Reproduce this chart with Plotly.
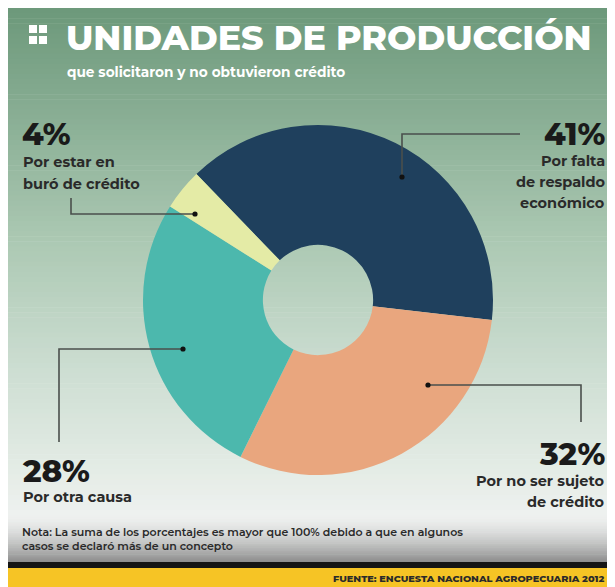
import plotly.graph_objects as go

W, H = 615, 587
OFF = 8  # page body margin

# ---- data ----
labels = ["Por falta de respaldo económico", "Por no ser sujeto de crédito",
          "Por otra causa", "Por estar en buró de crédito"]
values = [41, 32, 28, 4]
colors = ["#1f405d", "#e9a67e", "#4cb8ad", "#e4eba6"]

title = "UNIDADES DE PRODUCCIÓN"
subtitle = "que solicitaron y no obtuvieron crédito"
note = ("Nota: La suma de los porcentajes es mayor que 100% debido a que en algunos<br>"
        "casos se declaró más de un concepto")
source = "FUENTE: ENCUESTA NACIONAL AGROPECUARIA 2012"


def px(x):
    return (x - OFF) / W


def py(y):
    return 1 - (y - OFF) / H


def lerp(c1, c2, t):
    return tuple(round(a + (b - a) * t) for a, b in zip(c1, c2))


shapes = []
# green gradient background
stops = [(8, (108, 152, 122)), (120, (138, 175, 149)), (250, (174, 202, 181)),
         (380, (207, 223, 212)), (470, (228, 236, 230)), (515, (238, 241, 239))]
N = 100
y0, y1 = 8, 515
for i in range(N):
    ya = y0 + (y1 - y0) * i / N
    yb = y0 + (y1 - y0) * (i + 1) / N + 0.6
    ym = (ya + yb) / 2
    for j in range(len(stops) - 1):
        if stops[j][0] <= ym <= stops[j + 1][0]:
            t = (ym - stops[j][0]) / (stops[j + 1][0] - stops[j][0])
            c = lerp(stops[j][1], stops[j + 1][1], t)
            break
    shapes.append(dict(type="rect", xref="paper", yref="paper", x0=0, x1=1,
                       y0=py(yb), y1=py(ya), fillcolor="rgb(%d,%d,%d)" % c,
                       line=dict(width=0), layer="below"))
# gray gradient bottom
g0, g1 = (238, 240, 239), (140, 140, 140)
N2 = 30
for i in range(N2):
    ya = 515 + (562 - 515) * i / N2
    yb = 515 + (562 - 515) * (i + 1) / N2 + 0.6
    t = ((i + 0.5) / N2) ** 1.6
    c = lerp(g0, g1, t)
    shapes.append(dict(type="rect", xref="paper", yref="paper", x0=0, x1=1,
                       y0=py(yb), y1=py(ya), fillcolor="rgb(%d,%d,%d)" % c,
                       line=dict(width=0), layer="below"))
# black band and yellow footer
shapes.append(dict(type="rect", xref="paper", yref="paper", x0=0, x1=1,
                   y0=py(568), y1=py(562), fillcolor="#151515", line=dict(width=0), layer="below"))
shapes.append(dict(type="rect", xref="paper", yref="paper", x0=0, x1=1,
                   y0=0, y1=py(568), fillcolor="#f6c425", line=dict(width=0), layer="below"))
# title icon (four squares)
for sx in (29, 39):
    for sy in (25, 36):
        shapes.append(dict(type="rect", xref="paper", yref="paper", x0=px(sx), x1=px(sx + 8),
                           y0=py(sy + 8), y1=py(sy), fillcolor="white", line=dict(width=0)))

# leader lines
leaders = [
    [(402, 177), (402, 134), (520, 134)],
    [(195, 214), (71, 214), (71, 198)],
    [(183, 349), (59, 349), (59, 442)],
    [(428, 385), (581, 385), (581, 422)],
]
for pts in leaders:
    path = "M " + " L ".join("%f,%f" % (px(x), py(y)) for x, y in pts)
    shapes.append(dict(type="path", xref="paper", yref="paper", path=path,
                       line=dict(color="#4a4f4c", width=1.6)))
    x, y = pts[0]
    r = 2.6
    shapes.append(dict(type="circle", xref="paper", yref="paper", x0=px(x - r), x1=px(x + r),
                       y0=py(y + r), y1=py(y - r), fillcolor="#111", line=dict(width=0)))

fig = go.Figure(go.Pie(
    labels=labels, values=values, sort=False, direction="clockwise", rotation=-44,
    hole=0.315, marker=dict(colors=colors, line=dict(width=0)),
    textinfo="none", hoverinfo="label+value", showlegend=False,
    domain=dict(x=[px(318 - 175), px(318 + 175)], y=[py(475), py(125)]),
))

FONT = "Montserrat, Lato, 'Open Sans', sans-serif"
ann = []


def txt(x, y, text, size, color="#2a2a2a", anchor="left", weight=700, family=FONT):
    ann.append(dict(x=px(x), y=py(y), xref="paper", yref="paper", text=text, showarrow=False,
                    xanchor=anchor, yanchor="middle", align=anchor,
                    font=dict(size=size, color=color, family=family, weight=weight)))


txt(64, 37, title, 34.8, color="white", weight=800)
txt(65, 72, subtitle, 13.7, color="white", weight=700)

big = dict(color="#1a1a1a", weight=800)
txt(20, 134, "4%", 31, **big)
txt(21, 162, "Por estar en", 14.5)
txt(21, 184, "buró de crédito", 14.5)

txt(607, 134, "41%", 31, anchor="right", **big)
txt(607, 161, "Por falta", 14.5, anchor="right")
txt(607, 182, "de respaldo", 14.5, anchor="right")
txt(607, 203, "económico", 14.5, anchor="right")

txt(20, 471, "28%", 31, **big)
txt(21, 497, "Por otra causa", 14.5)

txt(607, 454, "32%", 31, anchor="right", **big)
txt(607, 481, "Por no ser sujeto", 14.5, anchor="right")
txt(607, 502, "de crédito", 14.5, anchor="right")

ann.append(dict(x=px(20), y=py(539), xref="paper", yref="paper", text=note, showarrow=False,
                xanchor="left", yanchor="middle", align="left",
                font=dict(size=11, color="#2a2a2a", family=FONT, weight=600)))
txt(606, 578, source, 9.7, color="#2a2a2a", anchor="right", weight=800)

fig.update_layout(width=W, height=H, margin=dict(l=0, r=0, t=0, b=0),
                  paper_bgcolor="white", plot_bgcolor="white",
                  shapes=shapes, annotations=ann)
fig.write_html("out.html")
